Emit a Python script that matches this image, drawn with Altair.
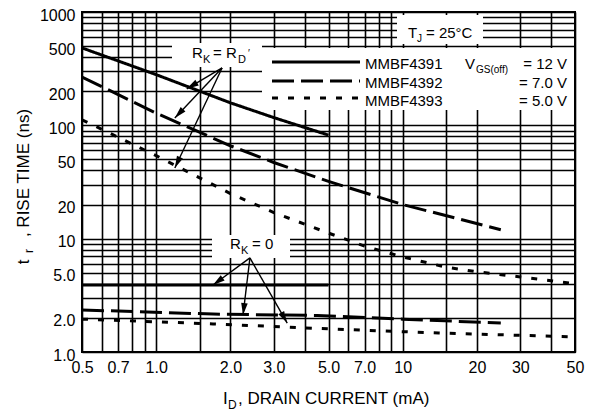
import math
import altair as alt
import pandas as pd

# ---------------- data ----------------
devices = ["MMBF4391", "MMBF4392", "MMBF4393"]

# R_K = R_D curves
I_4391_RD = [0.5, 1.0, 2.0, 3.0, 5.0]
t_4391_RD = [482, 280, 158, 117, 82]
I_4392_RD = [0.5, 1.0, 2.0, 3.0, 5.0, 10, 25]
t_4392_RD = [267, 128, 66, 47, 32, 20, 12]
I_4393_RD = [0.5, 1.0, 2.0, 3.0, 5.0, 7.0, 10, 15, 20, 30, 50]
t_4393_RD = [112, 54, 25, 17, 11.2, 8.6, 6.9, 5.6, 5.1, 4.6, 4.0]

# R_K = 0 curves
I_4391_R0 = [0.5, 5.0]
t_4391_R0 = [3.9, 3.9]
I_4392_R0 = [0.5, 1.7, 4.5, 10, 25]
t_4392_R0 = [2.35, 2.16, 2.1, 1.95, 1.8]
I_4393_R0 = [0.5, 1.7, 5.0, 14, 50]
t_4393_R0 = [1.95, 1.77, 1.6, 1.47, 1.36]

# annotation arrows (data units)
arrow_RD_from = [1.85, 321]
arrow_RD_to_I = [1.33, 1.19, 1.19]
arrow_RD_to_t = [210, 116, 42]
arrow_R0_from = [2.40, 6.76]
arrow_R0_to_I = [1.70, 2.25, 3.40]
arrow_R0_to_t = [3.9, 2.12, 1.80]

x_grid = [0.5, 0.6, 0.7, 0.8, 0.9, 1.0, 1.5, 2, 3, 4, 5, 6, 7, 8, 9, 10, 15, 20, 30, 40, 50]
x_ticks = [0.5, 0.7, 1.0, 2.0, 3.0, 5.0, 7.0, 10, 20, 30, 50]
x_tick_labels = ["0.5", "0.7", "1.0", "2.0", "3.0", "5.0", "7.0", "10", "20", "30", "50"]
y_grid = [1, 2, 3, 4, 5, 6, 7, 8, 9, 10, 20, 30, 40, 50, 60, 70, 80, 90,
          100, 200, 300, 400, 500, 600, 700, 800, 900, 1000]
y_ticks = [1, 2, 5, 10, 20, 50, 100, 200, 500, 1000]
y_tick_labels = ["1.0", "2.0", "5.0", "10", "20", "50", "100", "200", "500", "1000"]

# ---------------- build tables ----------------
rows = []
for dev, cond, I, t in [
    ("MMBF4391", "RD", I_4391_RD, t_4391_RD),
    ("MMBF4392", "RD", I_4392_RD, t_4392_RD),
    ("MMBF4393", "RD", I_4393_RD, t_4393_RD),
    ("MMBF4391", "R0", I_4391_R0, t_4391_R0),
    ("MMBF4392", "R0", I_4392_R0, t_4392_R0),
    ("MMBF4393", "R0", I_4393_R0, t_4393_R0),
]:
    for a, b in zip(I, t):
        rows.append({"I": a, "t": b, "device": dev, "cond": cond})
df = pd.DataFrame(rows)

W, H = 493, 340
X0, Y0 = 82, 12  # page position of plot origin


def px(v):
    return W * math.log10(v / 0.5) / 2.0


def py(v):
    return H * (1 - math.log10(v) / 3.0)


arows = []
for (fi, ft), tis, tts in [(arrow_RD_from, arrow_RD_to_I, arrow_RD_to_t),
                           (arrow_R0_from, arrow_R0_to_I, arrow_R0_to_t)]:
    for ti, tt in zip(tis, tts):
        dx = px(ti) - px(fi)
        dy = py(tt) - py(ft)
        ang = math.degrees(math.atan2(dx, -dy)) % 360
        arows.append({"x": fi, "y": ft, "x2": ti, "y2": tt, "ang": ang})
adf = pd.DataFrame(arows)

FONT = "Liberation Sans"


def label_expr(vals, labs):
    v = ",".join(repr(float(a)) for a in vals)
    l = ",".join("'" + s + "'" for s in labs)
    return "[" + l + "][indexof([" + v + "], datum.value)] || ''"


xs = alt.Scale(type="log", domain=[0.5, 50], nice=False)
ys = alt.Scale(type="log", domain=[1, 1000], nice=False)
xaxis = alt.Axis(values=x_grid, labelExpr=label_expr(x_ticks, x_tick_labels), grid=True,
                 ticks=False, domain=False, title=None, gridColor="#000", gridWidth=1.6,
                 gridOpacity=1, labelFont=FONT, labelFontSize=16, labelColor="#000",
                 labelPadding=7, labelOverlap=False, labelFlush=False, labelBound=False)
yaxis = alt.Axis(values=y_grid, labelExpr=label_expr(y_ticks, y_tick_labels), grid=True,
                 ticks=False, domain=False, title=None, gridColor="#000", gridWidth=1.6,
                 gridOpacity=1, labelFont=FONT, labelFontSize=16, labelColor="#000",
                 labelPadding=7, labelOffset=3, labelOverlap=False, labelFlush=False,
                 labelBound=False)


def X(f):
    return alt.X(f, type="quantitative", scale=xs, axis=xaxis)


def Y(f):
    return alt.Y(f, type="quantitative", scale=ys, axis=yaxis)


one = pd.DataFrame({"k": [0]})


def box(x1, y1, x2, y2):
    return alt.Chart(one).mark_rect(color="white", opacity=1).encode(
        x=alt.value(x1 - X0), x2=alt.value(x2 - X0),
        y=alt.value(y1 - Y0), y2=alt.value(y2 - Y0))


def txt(s, x, y, size=15, align="left", baseline="alphabetic", angle=0, font=FONT):
    kw = dict(align=align, baseline=baseline, fontSize=size, font=font, color="#000")
    if angle:
        kw["angle"] = angle
    return alt.Chart(one).mark_text(**kw).encode(
        x=alt.value(x - X0), y=alt.value(y - Y0), text=alt.value(s))


def hline(x1, x2, y, dash):
    return alt.Chart(one).mark_rule(color="#000", strokeWidth=3, strokeDash=dash).encode(
        x=alt.value(x1 - X0), x2=alt.value(x2 - X0), y=alt.value(y - Y0))


dash_scale = alt.Scale(domain=devices, range=[[1, 0], [22, 7], [6, 10]])

lines = alt.Chart(df).mark_line(color="#000", strokeWidth=3, clip=True).encode(
    x=X("I"), y=Y("t"),
    strokeDash=alt.StrokeDash("device:N", scale=dash_scale, legend=None),
    detail="cond:N",
)

arrow_lines = alt.Chart(adf).mark_rule(color="#000", strokeWidth=1.4).encode(
    x=X("x"), y=Y("y"), x2="x2:Q", y2="y2:Q")
arrow_heads = alt.Chart(adf).mark_point(
    shape="M0,0L0.55,2L-0.55,2Z", filled=True, color="#000", opacity=1, size=144).encode(
    x=X("x2"), y=Y("y2"), angle=alt.Angle("ang:Q", scale=None))

layers = [
    box(172, 43, 262, 67),     # R_K = R_D label
    box(262, 48, 574, 110),    # legend
    box(397, 15, 483, 44),     # T_J label
    box(212, 235, 290, 258),   # R_K = 0 label
    lines,
    arrow_lines,
    arrow_heads,
    # R_K = R_D label
    txt("R", 192, 58, 15),
    txt("K", 203, 63, 11),
    txt("= R", 213, 58, 15),
    txt("D", 238, 63, 11),
    txt("\u2032", 248, 57, 10),
    # R_K = 0 label
    txt("R", 230, 249, 15),
    txt("K", 241, 254, 11),
    txt("= 0", 252, 249, 15),
    # T_J label
    txt("T", 408, 38, 15),
    txt("J", 417, 42, 10),
    txt("= 25\u00b0C", 426, 38, 15),
    # legend
    hline(272, 360, 62, [1, 0]),
    hline(272, 360, 81, [22, 7]),
    hline(272, 360, 98, [6, 10]),
    txt("MMBF4391", 365, 69, 15),
    txt("MMBF4392", 365, 88, 15),
    txt("MMBF4393", 365, 106, 15),
    txt("V", 465, 69, 15),
    txt("GS(off)", 476, 73, 10),
    txt("= 12 V", 567, 69, 15, align="right"),
    txt("= 7.0 V", 567, 88, 15, align="right"),
    txt("= 5.0 V", 567, 106, 15, align="right"),
    # x title
    txt("I", 223, 404, 17),
    txt("D", 228, 409, 12),
    txt(", DRAIN  CURRENT (mA)", 238, 404, 17),
    # y title
    txt(", RISE TIME (ns)", 29, 173, 17, align="center", angle=270),
    txt("t", 29, 262, 17, align="center", angle=270),
    txt("r", 33, 251, 12, align="center", angle=270),
]

chart = alt.layer(*layers).properties(
    width=W, height=H,
    padding={"left": X0 - 8, "top": Y0 - 8, "right": 12, "bottom": 60},
    autosize=alt.AutoSizeParams(type="none"),
).configure_view(stroke="#000", strokeWidth=2)

chart.save("out.html", embed_options={"renderer": "svg", "actions": False})
